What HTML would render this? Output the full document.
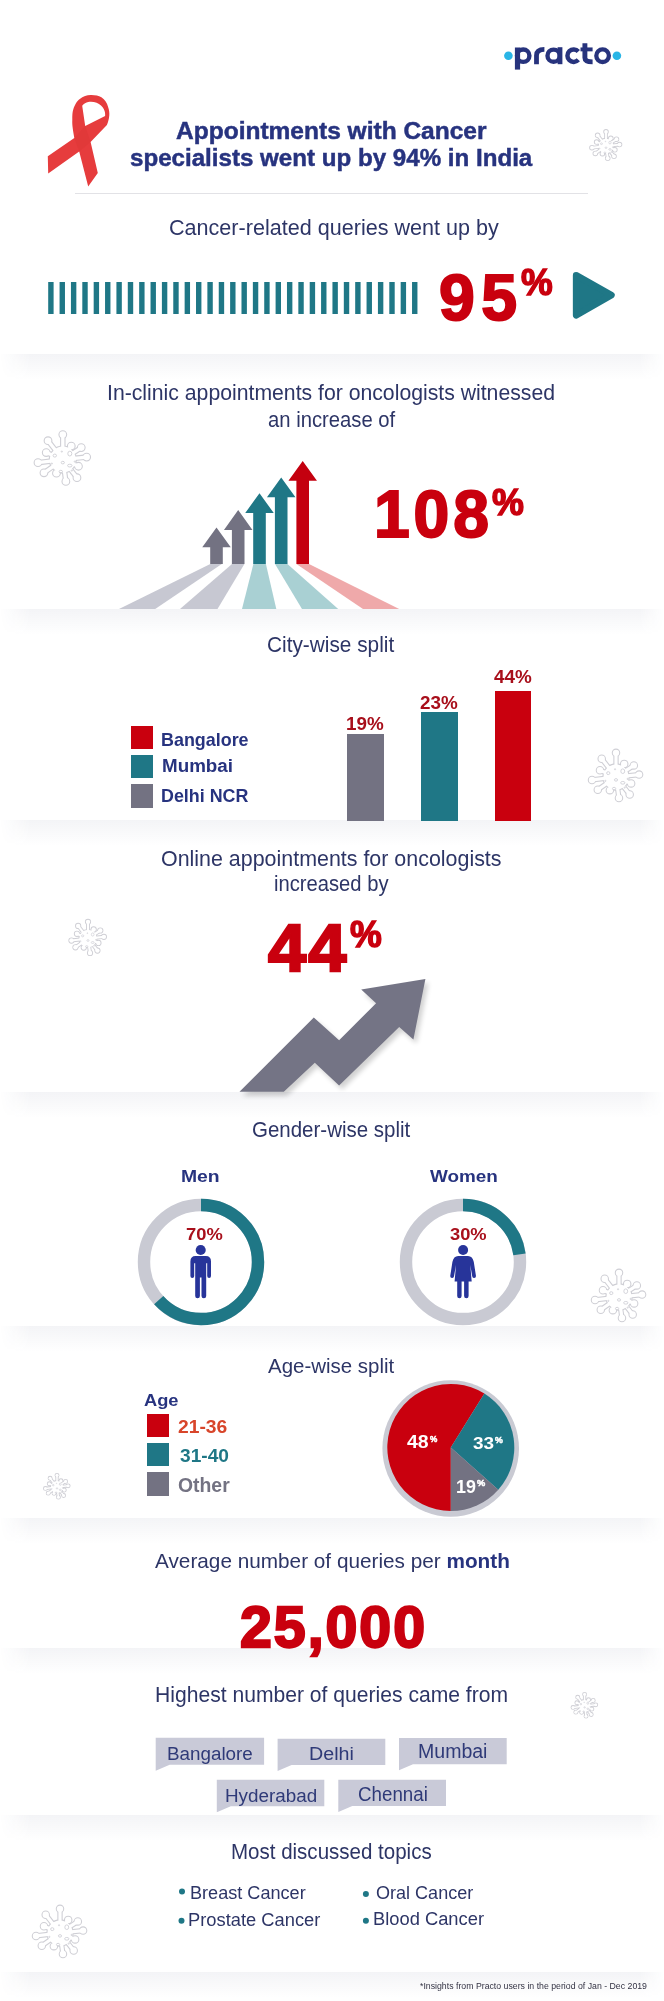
<!DOCTYPE html>
<html><head><meta charset="utf-8"><style>
html,body{margin:0;padding:0;background:#fff;}
body{width:664px;height:2001px;position:relative;overflow:hidden;font-family:"Liberation Sans",sans-serif;}
.abs{position:absolute;}
.t{position:absolute;white-space:nowrap;line-height:1;transform-origin:0 0;font-family:"Liberation Sans",sans-serif;}
.band{position:absolute;left:0;width:664px;height:26px;background:linear-gradient(to bottom,rgba(30,40,90,0.05),rgba(30,40,90,0));
-webkit-mask-image:linear-gradient(to right,transparent 0,#000 30px,#000 640px,transparent 664px);}
</style></head><body>
<svg class="abs" style="left:0;top:0" width="664" height="2001" viewBox="0 0 664 2001"><g fill="#cfcfd5" stroke="#cfcfd5" stroke-width="0.90"><circle stroke-width="1.80" cx="606" cy="146" r="7.37"/><line x1="606" y1="146" x2="606.00" y2="131.83" stroke-width="3.67"/><circle stroke-width="1.80" cx="606.00" cy="131.83" r="1.87"/><line x1="606" y1="146" x2="610.80" y2="138.31" stroke-width="3.67"/><circle stroke-width="1.80" cx="610.80" cy="138.31" r="1.87"/><line x1="606" y1="146" x2="616.46" y2="139.21" stroke-width="3.67"/><circle stroke-width="1.80" cx="616.46" cy="139.21" r="1.87"/><line x1="606" y1="146" x2="619.53" y2="144.58" stroke-width="3.67"/><circle stroke-width="1.80" cx="619.53" cy="144.58" r="1.87"/><line x1="606" y1="146" x2="614.87" y2="149.76" stroke-width="3.67"/><circle stroke-width="1.80" cx="614.87" cy="149.76" r="1.87"/><line x1="606" y1="146" x2="614.02" y2="156.27" stroke-width="3.67"/><circle stroke-width="1.80" cx="614.02" cy="156.27" r="1.87"/><line x1="606" y1="146" x2="607.74" y2="158.35" stroke-width="3.67"/><circle stroke-width="1.80" cx="607.74" cy="158.35" r="1.87"/><line x1="606" y1="146" x2="602.41" y2="153.70" stroke-width="3.67"/><circle stroke-width="1.80" cx="602.41" cy="153.70" r="1.87"/><line x1="606" y1="146" x2="595.32" y2="153.48" stroke-width="3.67"/><circle stroke-width="1.80" cx="595.32" cy="153.48" r="1.87"/><line x1="606" y1="146" x2="591.94" y2="147.73" stroke-width="3.67"/><circle stroke-width="1.80" cx="591.94" cy="147.73" r="1.87"/><line x1="606" y1="146" x2="596.61" y2="142.01" stroke-width="3.67"/><circle stroke-width="1.80" cx="596.61" cy="142.01" r="1.87"/><line x1="606" y1="146" x2="597.63" y2="135.28" stroke-width="3.67"/><circle stroke-width="1.80" cx="597.63" cy="135.28" r="1.87"/></g><g fill="#fff" stroke="#fff"><circle stroke-width="0" cx="606" cy="146" r="7.37"/><line x1="606" y1="146" x2="606.00" y2="131.83" stroke-width="1.87"/><circle stroke-width="0" cx="606.00" cy="131.83" r="1.87"/><line x1="606" y1="146" x2="610.80" y2="138.31" stroke-width="1.87"/><circle stroke-width="0" cx="610.80" cy="138.31" r="1.87"/><line x1="606" y1="146" x2="616.46" y2="139.21" stroke-width="1.87"/><circle stroke-width="0" cx="616.46" cy="139.21" r="1.87"/><line x1="606" y1="146" x2="619.53" y2="144.58" stroke-width="1.87"/><circle stroke-width="0" cx="619.53" cy="144.58" r="1.87"/><line x1="606" y1="146" x2="614.87" y2="149.76" stroke-width="1.87"/><circle stroke-width="0" cx="614.87" cy="149.76" r="1.87"/><line x1="606" y1="146" x2="614.02" y2="156.27" stroke-width="1.87"/><circle stroke-width="0" cx="614.02" cy="156.27" r="1.87"/><line x1="606" y1="146" x2="607.74" y2="158.35" stroke-width="1.87"/><circle stroke-width="0" cx="607.74" cy="158.35" r="1.87"/><line x1="606" y1="146" x2="602.41" y2="153.70" stroke-width="1.87"/><circle stroke-width="0" cx="602.41" cy="153.70" r="1.87"/><line x1="606" y1="146" x2="595.32" y2="153.48" stroke-width="1.87"/><circle stroke-width="0" cx="595.32" cy="153.48" r="1.87"/><line x1="606" y1="146" x2="591.94" y2="147.73" stroke-width="1.87"/><circle stroke-width="0" cx="591.94" cy="147.73" r="1.87"/><line x1="606" y1="146" x2="596.61" y2="142.01" stroke-width="1.87"/><circle stroke-width="0" cx="596.61" cy="142.01" r="1.87"/><line x1="606" y1="146" x2="597.63" y2="135.28" stroke-width="1.87"/><circle stroke-width="0" cx="597.63" cy="135.28" r="1.87"/></g><ellipse cx="601.47" cy="143.73" rx="0.96" ry="0.85" fill="none" stroke="#cfcfd5" stroke-width="0.70"/><ellipse cx="609.97" cy="142.60" rx="1.13" ry="1.36" fill="none" stroke="#cfcfd5" stroke-width="0.70"/><ellipse cx="606.00" cy="147.70" rx="0.91" ry="0.74" fill="none" stroke="#cfcfd5" stroke-width="0.70"/><ellipse cx="609.97" cy="149.40" rx="1.25" ry="0.79" fill="none" stroke="#cfcfd5" stroke-width="0.70"/><ellipse cx="604.87" cy="152.80" rx="0.96" ry="0.74" fill="none" stroke="#cfcfd5" stroke-width="0.70"/><ellipse cx="605.43" cy="141.47" rx="0.34" ry="0.34" fill="none" stroke="#cfcfd5" stroke-width="0.70"/><ellipse cx="599.77" cy="148.27" rx="0.34" ry="0.34" fill="none" stroke="#cfcfd5" stroke-width="0.70"/><ellipse cx="612.80" cy="147.13" rx="0.34" ry="0.34" fill="none" stroke="#cfcfd5" stroke-width="0.70"/><ellipse cx="611.10" cy="152.23" rx="0.34" ry="0.34" fill="none" stroke="#cfcfd5" stroke-width="0.70"/><g fill="#cfcfd5" stroke="#cfcfd5" stroke-width="1.10"><circle stroke-width="2.20" cx="62.8" cy="459.6" r="13.00"/><line x1="62.8" y1="459.6" x2="62.80" y2="434.60" stroke-width="5.50"/><circle stroke-width="2.20" cx="62.80" cy="434.60" r="3.30"/><line x1="62.8" y1="459.6" x2="71.28" y2="446.03" stroke-width="5.50"/><circle stroke-width="2.20" cx="71.28" cy="446.03" r="3.30"/><line x1="62.8" y1="459.6" x2="81.25" y2="447.62" stroke-width="5.50"/><circle stroke-width="2.20" cx="81.25" cy="447.62" r="3.30"/><line x1="62.8" y1="459.6" x2="86.67" y2="457.09" stroke-width="5.50"/><circle stroke-width="2.20" cx="86.67" cy="457.09" r="3.30"/><line x1="62.8" y1="459.6" x2="78.45" y2="466.24" stroke-width="5.50"/><circle stroke-width="2.20" cx="78.45" cy="466.24" r="3.30"/><line x1="62.8" y1="459.6" x2="76.96" y2="477.72" stroke-width="5.50"/><circle stroke-width="2.20" cx="76.96" cy="477.72" r="3.30"/><line x1="62.8" y1="459.6" x2="65.86" y2="481.39" stroke-width="5.50"/><circle stroke-width="2.20" cx="65.86" cy="481.39" r="3.30"/><line x1="62.8" y1="459.6" x2="56.46" y2="473.19" stroke-width="5.50"/><circle stroke-width="2.20" cx="56.46" cy="473.19" r="3.30"/><line x1="62.8" y1="459.6" x2="43.96" y2="472.79" stroke-width="5.50"/><circle stroke-width="2.20" cx="43.96" cy="472.79" r="3.30"/><line x1="62.8" y1="459.6" x2="37.99" y2="462.65" stroke-width="5.50"/><circle stroke-width="2.20" cx="37.99" cy="462.65" r="3.30"/><line x1="62.8" y1="459.6" x2="46.23" y2="452.57" stroke-width="5.50"/><circle stroke-width="2.20" cx="46.23" cy="452.57" r="3.30"/><line x1="62.8" y1="459.6" x2="48.02" y2="440.69" stroke-width="5.50"/><circle stroke-width="2.20" cx="48.02" cy="440.69" r="3.30"/></g><g fill="#fff" stroke="#fff"><circle stroke-width="0" cx="62.8" cy="459.6" r="13.00"/><line x1="62.8" y1="459.6" x2="62.80" y2="434.60" stroke-width="3.30"/><circle stroke-width="0" cx="62.80" cy="434.60" r="3.30"/><line x1="62.8" y1="459.6" x2="71.28" y2="446.03" stroke-width="3.30"/><circle stroke-width="0" cx="71.28" cy="446.03" r="3.30"/><line x1="62.8" y1="459.6" x2="81.25" y2="447.62" stroke-width="3.30"/><circle stroke-width="0" cx="81.25" cy="447.62" r="3.30"/><line x1="62.8" y1="459.6" x2="86.67" y2="457.09" stroke-width="3.30"/><circle stroke-width="0" cx="86.67" cy="457.09" r="3.30"/><line x1="62.8" y1="459.6" x2="78.45" y2="466.24" stroke-width="3.30"/><circle stroke-width="0" cx="78.45" cy="466.24" r="3.30"/><line x1="62.8" y1="459.6" x2="76.96" y2="477.72" stroke-width="3.30"/><circle stroke-width="0" cx="76.96" cy="477.72" r="3.30"/><line x1="62.8" y1="459.6" x2="65.86" y2="481.39" stroke-width="3.30"/><circle stroke-width="0" cx="65.86" cy="481.39" r="3.30"/><line x1="62.8" y1="459.6" x2="56.46" y2="473.19" stroke-width="3.30"/><circle stroke-width="0" cx="56.46" cy="473.19" r="3.30"/><line x1="62.8" y1="459.6" x2="43.96" y2="472.79" stroke-width="3.30"/><circle stroke-width="0" cx="43.96" cy="472.79" r="3.30"/><line x1="62.8" y1="459.6" x2="37.99" y2="462.65" stroke-width="3.30"/><circle stroke-width="0" cx="37.99" cy="462.65" r="3.30"/><line x1="62.8" y1="459.6" x2="46.23" y2="452.57" stroke-width="3.30"/><circle stroke-width="0" cx="46.23" cy="452.57" r="3.30"/><line x1="62.8" y1="459.6" x2="48.02" y2="440.69" stroke-width="3.30"/><circle stroke-width="0" cx="48.02" cy="440.69" r="3.30"/></g><ellipse cx="54.80" cy="455.60" rx="1.70" ry="1.50" fill="none" stroke="#cfcfd5" stroke-width="0.90"/><ellipse cx="69.80" cy="453.60" rx="2.00" ry="2.40" fill="none" stroke="#cfcfd5" stroke-width="0.90"/><ellipse cx="62.80" cy="462.60" rx="1.60" ry="1.30" fill="none" stroke="#cfcfd5" stroke-width="0.90"/><ellipse cx="69.80" cy="465.60" rx="2.20" ry="1.40" fill="none" stroke="#cfcfd5" stroke-width="0.90"/><ellipse cx="60.80" cy="471.60" rx="1.70" ry="1.30" fill="none" stroke="#cfcfd5" stroke-width="0.90"/><ellipse cx="61.80" cy="451.60" rx="0.60" ry="0.60" fill="none" stroke="#cfcfd5" stroke-width="0.90"/><ellipse cx="51.80" cy="463.60" rx="0.60" ry="0.60" fill="none" stroke="#cfcfd5" stroke-width="0.90"/><ellipse cx="74.80" cy="461.60" rx="0.60" ry="0.60" fill="none" stroke="#cfcfd5" stroke-width="0.90"/><ellipse cx="71.80" cy="470.60" rx="0.60" ry="0.60" fill="none" stroke="#cfcfd5" stroke-width="0.90"/><g fill="#cfcfd5" stroke="#cfcfd5" stroke-width="1.06"><circle stroke-width="2.13" cx="616" cy="777" r="12.57"/><line x1="616" y1="777" x2="616.00" y2="752.83" stroke-width="5.32"/><circle stroke-width="2.13" cx="616.00" cy="752.83" r="3.19"/><line x1="616" y1="777" x2="624.20" y2="763.88" stroke-width="5.32"/><circle stroke-width="2.13" cx="624.20" cy="763.88" r="3.19"/><line x1="616" y1="777" x2="633.84" y2="765.42" stroke-width="5.32"/><circle stroke-width="2.13" cx="633.84" cy="765.42" r="3.19"/><line x1="616" y1="777" x2="639.07" y2="774.57" stroke-width="5.32"/><circle stroke-width="2.13" cx="639.07" cy="774.57" r="3.19"/><line x1="616" y1="777" x2="631.13" y2="783.42" stroke-width="5.32"/><circle stroke-width="2.13" cx="631.13" cy="783.42" r="3.19"/><line x1="616" y1="777" x2="629.69" y2="794.52" stroke-width="5.32"/><circle stroke-width="2.13" cx="629.69" cy="794.52" r="3.19"/><line x1="616" y1="777" x2="618.96" y2="798.06" stroke-width="5.32"/><circle stroke-width="2.13" cx="618.96" cy="798.06" r="3.19"/><line x1="616" y1="777" x2="609.87" y2="790.14" stroke-width="5.32"/><circle stroke-width="2.13" cx="609.87" cy="790.14" r="3.19"/><line x1="616" y1="777" x2="597.79" y2="789.75" stroke-width="5.32"/><circle stroke-width="2.13" cx="597.79" cy="789.75" r="3.19"/><line x1="616" y1="777" x2="592.01" y2="779.95" stroke-width="5.32"/><circle stroke-width="2.13" cx="592.01" cy="779.95" r="3.19"/><line x1="616" y1="777" x2="599.98" y2="770.20" stroke-width="5.32"/><circle stroke-width="2.13" cx="599.98" cy="770.20" r="3.19"/><line x1="616" y1="777" x2="601.72" y2="758.72" stroke-width="5.32"/><circle stroke-width="2.13" cx="601.72" cy="758.72" r="3.19"/></g><g fill="#fff" stroke="#fff"><circle stroke-width="0" cx="616" cy="777" r="12.57"/><line x1="616" y1="777" x2="616.00" y2="752.83" stroke-width="3.19"/><circle stroke-width="0" cx="616.00" cy="752.83" r="3.19"/><line x1="616" y1="777" x2="624.20" y2="763.88" stroke-width="3.19"/><circle stroke-width="0" cx="624.20" cy="763.88" r="3.19"/><line x1="616" y1="777" x2="633.84" y2="765.42" stroke-width="3.19"/><circle stroke-width="0" cx="633.84" cy="765.42" r="3.19"/><line x1="616" y1="777" x2="639.07" y2="774.57" stroke-width="3.19"/><circle stroke-width="0" cx="639.07" cy="774.57" r="3.19"/><line x1="616" y1="777" x2="631.13" y2="783.42" stroke-width="3.19"/><circle stroke-width="0" cx="631.13" cy="783.42" r="3.19"/><line x1="616" y1="777" x2="629.69" y2="794.52" stroke-width="3.19"/><circle stroke-width="0" cx="629.69" cy="794.52" r="3.19"/><line x1="616" y1="777" x2="618.96" y2="798.06" stroke-width="3.19"/><circle stroke-width="0" cx="618.96" cy="798.06" r="3.19"/><line x1="616" y1="777" x2="609.87" y2="790.14" stroke-width="3.19"/><circle stroke-width="0" cx="609.87" cy="790.14" r="3.19"/><line x1="616" y1="777" x2="597.79" y2="789.75" stroke-width="3.19"/><circle stroke-width="0" cx="597.79" cy="789.75" r="3.19"/><line x1="616" y1="777" x2="592.01" y2="779.95" stroke-width="3.19"/><circle stroke-width="0" cx="592.01" cy="779.95" r="3.19"/><line x1="616" y1="777" x2="599.98" y2="770.20" stroke-width="3.19"/><circle stroke-width="0" cx="599.98" cy="770.20" r="3.19"/><line x1="616" y1="777" x2="601.72" y2="758.72" stroke-width="3.19"/><circle stroke-width="0" cx="601.72" cy="758.72" r="3.19"/></g><ellipse cx="608.27" cy="773.13" rx="1.64" ry="1.45" fill="none" stroke="#cfcfd5" stroke-width="0.87"/><ellipse cx="622.77" cy="771.20" rx="1.93" ry="2.32" fill="none" stroke="#cfcfd5" stroke-width="0.87"/><ellipse cx="616.00" cy="779.90" rx="1.55" ry="1.26" fill="none" stroke="#cfcfd5" stroke-width="0.87"/><ellipse cx="622.77" cy="782.80" rx="2.13" ry="1.35" fill="none" stroke="#cfcfd5" stroke-width="0.87"/><ellipse cx="614.07" cy="788.60" rx="1.64" ry="1.26" fill="none" stroke="#cfcfd5" stroke-width="0.87"/><ellipse cx="615.03" cy="769.27" rx="0.58" ry="0.58" fill="none" stroke="#cfcfd5" stroke-width="0.87"/><ellipse cx="605.37" cy="780.87" rx="0.58" ry="0.58" fill="none" stroke="#cfcfd5" stroke-width="0.87"/><ellipse cx="627.60" cy="778.93" rx="0.58" ry="0.58" fill="none" stroke="#cfcfd5" stroke-width="0.87"/><ellipse cx="624.70" cy="787.63" rx="0.58" ry="0.58" fill="none" stroke="#cfcfd5" stroke-width="0.87"/><g fill="#cfcfd5" stroke="#cfcfd5" stroke-width="0.90"><circle stroke-width="1.80" cx="88" cy="938.5" r="8.67"/><line x1="88" y1="938.5" x2="88.00" y2="921.83" stroke-width="4.00"/><circle stroke-width="1.80" cx="88.00" cy="921.83" r="2.20"/><line x1="88" y1="938.5" x2="93.65" y2="929.45" stroke-width="4.00"/><circle stroke-width="1.80" cx="93.65" cy="929.45" r="2.20"/><line x1="88" y1="938.5" x2="100.30" y2="930.51" stroke-width="4.00"/><circle stroke-width="1.80" cx="100.30" cy="930.51" r="2.20"/><line x1="88" y1="938.5" x2="103.91" y2="936.83" stroke-width="4.00"/><circle stroke-width="1.80" cx="103.91" cy="936.83" r="2.20"/><line x1="88" y1="938.5" x2="98.43" y2="942.93" stroke-width="4.00"/><circle stroke-width="1.80" cx="98.43" cy="942.93" r="2.20"/><line x1="88" y1="938.5" x2="97.44" y2="950.58" stroke-width="4.00"/><circle stroke-width="1.80" cx="97.44" cy="950.58" r="2.20"/><line x1="88" y1="938.5" x2="90.04" y2="953.02" stroke-width="4.00"/><circle stroke-width="1.80" cx="90.04" cy="953.02" r="2.20"/><line x1="88" y1="938.5" x2="83.77" y2="947.56" stroke-width="4.00"/><circle stroke-width="1.80" cx="83.77" cy="947.56" r="2.20"/><line x1="88" y1="938.5" x2="75.44" y2="947.29" stroke-width="4.00"/><circle stroke-width="1.80" cx="75.44" cy="947.29" r="2.20"/><line x1="88" y1="938.5" x2="71.46" y2="940.53" stroke-width="4.00"/><circle stroke-width="1.80" cx="71.46" cy="940.53" r="2.20"/><line x1="88" y1="938.5" x2="76.95" y2="933.81" stroke-width="4.00"/><circle stroke-width="1.80" cx="76.95" cy="933.81" r="2.20"/><line x1="88" y1="938.5" x2="78.15" y2="925.89" stroke-width="4.00"/><circle stroke-width="1.80" cx="78.15" cy="925.89" r="2.20"/></g><g fill="#fff" stroke="#fff"><circle stroke-width="0" cx="88" cy="938.5" r="8.67"/><line x1="88" y1="938.5" x2="88.00" y2="921.83" stroke-width="2.20"/><circle stroke-width="0" cx="88.00" cy="921.83" r="2.20"/><line x1="88" y1="938.5" x2="93.65" y2="929.45" stroke-width="2.20"/><circle stroke-width="0" cx="93.65" cy="929.45" r="2.20"/><line x1="88" y1="938.5" x2="100.30" y2="930.51" stroke-width="2.20"/><circle stroke-width="0" cx="100.30" cy="930.51" r="2.20"/><line x1="88" y1="938.5" x2="103.91" y2="936.83" stroke-width="2.20"/><circle stroke-width="0" cx="103.91" cy="936.83" r="2.20"/><line x1="88" y1="938.5" x2="98.43" y2="942.93" stroke-width="2.20"/><circle stroke-width="0" cx="98.43" cy="942.93" r="2.20"/><line x1="88" y1="938.5" x2="97.44" y2="950.58" stroke-width="2.20"/><circle stroke-width="0" cx="97.44" cy="950.58" r="2.20"/><line x1="88" y1="938.5" x2="90.04" y2="953.02" stroke-width="2.20"/><circle stroke-width="0" cx="90.04" cy="953.02" r="2.20"/><line x1="88" y1="938.5" x2="83.77" y2="947.56" stroke-width="2.20"/><circle stroke-width="0" cx="83.77" cy="947.56" r="2.20"/><line x1="88" y1="938.5" x2="75.44" y2="947.29" stroke-width="2.20"/><circle stroke-width="0" cx="75.44" cy="947.29" r="2.20"/><line x1="88" y1="938.5" x2="71.46" y2="940.53" stroke-width="2.20"/><circle stroke-width="0" cx="71.46" cy="940.53" r="2.20"/><line x1="88" y1="938.5" x2="76.95" y2="933.81" stroke-width="2.20"/><circle stroke-width="0" cx="76.95" cy="933.81" r="2.20"/><line x1="88" y1="938.5" x2="78.15" y2="925.89" stroke-width="2.20"/><circle stroke-width="0" cx="78.15" cy="925.89" r="2.20"/></g><ellipse cx="82.67" cy="935.83" rx="1.13" ry="1.00" fill="none" stroke="#cfcfd5" stroke-width="0.70"/><ellipse cx="92.67" cy="934.50" rx="1.33" ry="1.60" fill="none" stroke="#cfcfd5" stroke-width="0.70"/><ellipse cx="88.00" cy="940.50" rx="1.07" ry="0.87" fill="none" stroke="#cfcfd5" stroke-width="0.70"/><ellipse cx="92.67" cy="942.50" rx="1.47" ry="0.93" fill="none" stroke="#cfcfd5" stroke-width="0.70"/><ellipse cx="86.67" cy="946.50" rx="1.13" ry="0.87" fill="none" stroke="#cfcfd5" stroke-width="0.70"/><ellipse cx="87.33" cy="933.17" rx="0.40" ry="0.40" fill="none" stroke="#cfcfd5" stroke-width="0.70"/><ellipse cx="80.67" cy="941.17" rx="0.40" ry="0.40" fill="none" stroke="#cfcfd5" stroke-width="0.70"/><ellipse cx="96.00" cy="939.83" rx="0.40" ry="0.40" fill="none" stroke="#cfcfd5" stroke-width="0.70"/><ellipse cx="94.00" cy="945.83" rx="0.40" ry="0.40" fill="none" stroke="#cfcfd5" stroke-width="0.70"/><g fill="#cfcfd5" stroke="#cfcfd5" stroke-width="1.06"><circle stroke-width="2.13" cx="619" cy="1297" r="12.57"/><line x1="619" y1="1297" x2="619.00" y2="1272.83" stroke-width="5.32"/><circle stroke-width="2.13" cx="619.00" cy="1272.83" r="3.19"/><line x1="619" y1="1297" x2="627.20" y2="1283.88" stroke-width="5.32"/><circle stroke-width="2.13" cx="627.20" cy="1283.88" r="3.19"/><line x1="619" y1="1297" x2="636.84" y2="1285.42" stroke-width="5.32"/><circle stroke-width="2.13" cx="636.84" cy="1285.42" r="3.19"/><line x1="619" y1="1297" x2="642.07" y2="1294.57" stroke-width="5.32"/><circle stroke-width="2.13" cx="642.07" cy="1294.57" r="3.19"/><line x1="619" y1="1297" x2="634.13" y2="1303.42" stroke-width="5.32"/><circle stroke-width="2.13" cx="634.13" cy="1303.42" r="3.19"/><line x1="619" y1="1297" x2="632.69" y2="1314.52" stroke-width="5.32"/><circle stroke-width="2.13" cx="632.69" cy="1314.52" r="3.19"/><line x1="619" y1="1297" x2="621.96" y2="1318.06" stroke-width="5.32"/><circle stroke-width="2.13" cx="621.96" cy="1318.06" r="3.19"/><line x1="619" y1="1297" x2="612.87" y2="1310.14" stroke-width="5.32"/><circle stroke-width="2.13" cx="612.87" cy="1310.14" r="3.19"/><line x1="619" y1="1297" x2="600.79" y2="1309.75" stroke-width="5.32"/><circle stroke-width="2.13" cx="600.79" cy="1309.75" r="3.19"/><line x1="619" y1="1297" x2="595.01" y2="1299.95" stroke-width="5.32"/><circle stroke-width="2.13" cx="595.01" cy="1299.95" r="3.19"/><line x1="619" y1="1297" x2="602.98" y2="1290.20" stroke-width="5.32"/><circle stroke-width="2.13" cx="602.98" cy="1290.20" r="3.19"/><line x1="619" y1="1297" x2="604.72" y2="1278.72" stroke-width="5.32"/><circle stroke-width="2.13" cx="604.72" cy="1278.72" r="3.19"/></g><g fill="#fff" stroke="#fff"><circle stroke-width="0" cx="619" cy="1297" r="12.57"/><line x1="619" y1="1297" x2="619.00" y2="1272.83" stroke-width="3.19"/><circle stroke-width="0" cx="619.00" cy="1272.83" r="3.19"/><line x1="619" y1="1297" x2="627.20" y2="1283.88" stroke-width="3.19"/><circle stroke-width="0" cx="627.20" cy="1283.88" r="3.19"/><line x1="619" y1="1297" x2="636.84" y2="1285.42" stroke-width="3.19"/><circle stroke-width="0" cx="636.84" cy="1285.42" r="3.19"/><line x1="619" y1="1297" x2="642.07" y2="1294.57" stroke-width="3.19"/><circle stroke-width="0" cx="642.07" cy="1294.57" r="3.19"/><line x1="619" y1="1297" x2="634.13" y2="1303.42" stroke-width="3.19"/><circle stroke-width="0" cx="634.13" cy="1303.42" r="3.19"/><line x1="619" y1="1297" x2="632.69" y2="1314.52" stroke-width="3.19"/><circle stroke-width="0" cx="632.69" cy="1314.52" r="3.19"/><line x1="619" y1="1297" x2="621.96" y2="1318.06" stroke-width="3.19"/><circle stroke-width="0" cx="621.96" cy="1318.06" r="3.19"/><line x1="619" y1="1297" x2="612.87" y2="1310.14" stroke-width="3.19"/><circle stroke-width="0" cx="612.87" cy="1310.14" r="3.19"/><line x1="619" y1="1297" x2="600.79" y2="1309.75" stroke-width="3.19"/><circle stroke-width="0" cx="600.79" cy="1309.75" r="3.19"/><line x1="619" y1="1297" x2="595.01" y2="1299.95" stroke-width="3.19"/><circle stroke-width="0" cx="595.01" cy="1299.95" r="3.19"/><line x1="619" y1="1297" x2="602.98" y2="1290.20" stroke-width="3.19"/><circle stroke-width="0" cx="602.98" cy="1290.20" r="3.19"/><line x1="619" y1="1297" x2="604.72" y2="1278.72" stroke-width="3.19"/><circle stroke-width="0" cx="604.72" cy="1278.72" r="3.19"/></g><ellipse cx="611.27" cy="1293.13" rx="1.64" ry="1.45" fill="none" stroke="#cfcfd5" stroke-width="0.87"/><ellipse cx="625.77" cy="1291.20" rx="1.93" ry="2.32" fill="none" stroke="#cfcfd5" stroke-width="0.87"/><ellipse cx="619.00" cy="1299.90" rx="1.55" ry="1.26" fill="none" stroke="#cfcfd5" stroke-width="0.87"/><ellipse cx="625.77" cy="1302.80" rx="2.13" ry="1.35" fill="none" stroke="#cfcfd5" stroke-width="0.87"/><ellipse cx="617.07" cy="1308.60" rx="1.64" ry="1.26" fill="none" stroke="#cfcfd5" stroke-width="0.87"/><ellipse cx="618.03" cy="1289.27" rx="0.58" ry="0.58" fill="none" stroke="#cfcfd5" stroke-width="0.87"/><ellipse cx="608.37" cy="1300.87" rx="0.58" ry="0.58" fill="none" stroke="#cfcfd5" stroke-width="0.87"/><ellipse cx="630.60" cy="1298.93" rx="0.58" ry="0.58" fill="none" stroke="#cfcfd5" stroke-width="0.87"/><ellipse cx="627.70" cy="1307.63" rx="0.58" ry="0.58" fill="none" stroke="#cfcfd5" stroke-width="0.87"/><g fill="#cfcfd5" stroke="#cfcfd5" stroke-width="0.90"><circle stroke-width="1.80" cx="57" cy="1487" r="6.07"/><line x1="57" y1="1487" x2="57.00" y2="1475.33" stroke-width="3.34"/><circle stroke-width="1.80" cx="57.00" cy="1475.33" r="1.54"/><line x1="57" y1="1487" x2="60.96" y2="1480.67" stroke-width="3.34"/><circle stroke-width="1.80" cx="60.96" cy="1480.67" r="1.54"/><line x1="57" y1="1487" x2="65.61" y2="1481.41" stroke-width="3.34"/><circle stroke-width="1.80" cx="65.61" cy="1481.41" r="1.54"/><line x1="57" y1="1487" x2="68.14" y2="1485.83" stroke-width="3.34"/><circle stroke-width="1.80" cx="68.14" cy="1485.83" r="1.54"/><line x1="57" y1="1487" x2="64.30" y2="1490.10" stroke-width="3.34"/><circle stroke-width="1.80" cx="64.30" cy="1490.10" r="1.54"/><line x1="57" y1="1487" x2="63.61" y2="1495.46" stroke-width="3.34"/><circle stroke-width="1.80" cx="63.61" cy="1495.46" r="1.54"/><line x1="57" y1="1487" x2="58.43" y2="1497.17" stroke-width="3.34"/><circle stroke-width="1.80" cx="58.43" cy="1497.17" r="1.54"/><line x1="57" y1="1487" x2="54.04" y2="1493.34" stroke-width="3.34"/><circle stroke-width="1.80" cx="54.04" cy="1493.34" r="1.54"/><line x1="57" y1="1487" x2="48.21" y2="1493.16" stroke-width="3.34"/><circle stroke-width="1.80" cx="48.21" cy="1493.16" r="1.54"/><line x1="57" y1="1487" x2="45.42" y2="1488.42" stroke-width="3.34"/><circle stroke-width="1.80" cx="45.42" cy="1488.42" r="1.54"/><line x1="57" y1="1487" x2="49.27" y2="1483.72" stroke-width="3.34"/><circle stroke-width="1.80" cx="49.27" cy="1483.72" r="1.54"/><line x1="57" y1="1487" x2="50.10" y2="1478.17" stroke-width="3.34"/><circle stroke-width="1.80" cx="50.10" cy="1478.17" r="1.54"/></g><g fill="#fff" stroke="#fff"><circle stroke-width="0" cx="57" cy="1487" r="6.07"/><line x1="57" y1="1487" x2="57.00" y2="1475.33" stroke-width="1.54"/><circle stroke-width="0" cx="57.00" cy="1475.33" r="1.54"/><line x1="57" y1="1487" x2="60.96" y2="1480.67" stroke-width="1.54"/><circle stroke-width="0" cx="60.96" cy="1480.67" r="1.54"/><line x1="57" y1="1487" x2="65.61" y2="1481.41" stroke-width="1.54"/><circle stroke-width="0" cx="65.61" cy="1481.41" r="1.54"/><line x1="57" y1="1487" x2="68.14" y2="1485.83" stroke-width="1.54"/><circle stroke-width="0" cx="68.14" cy="1485.83" r="1.54"/><line x1="57" y1="1487" x2="64.30" y2="1490.10" stroke-width="1.54"/><circle stroke-width="0" cx="64.30" cy="1490.10" r="1.54"/><line x1="57" y1="1487" x2="63.61" y2="1495.46" stroke-width="1.54"/><circle stroke-width="0" cx="63.61" cy="1495.46" r="1.54"/><line x1="57" y1="1487" x2="58.43" y2="1497.17" stroke-width="1.54"/><circle stroke-width="0" cx="58.43" cy="1497.17" r="1.54"/><line x1="57" y1="1487" x2="54.04" y2="1493.34" stroke-width="1.54"/><circle stroke-width="0" cx="54.04" cy="1493.34" r="1.54"/><line x1="57" y1="1487" x2="48.21" y2="1493.16" stroke-width="1.54"/><circle stroke-width="0" cx="48.21" cy="1493.16" r="1.54"/><line x1="57" y1="1487" x2="45.42" y2="1488.42" stroke-width="1.54"/><circle stroke-width="0" cx="45.42" cy="1488.42" r="1.54"/><line x1="57" y1="1487" x2="49.27" y2="1483.72" stroke-width="1.54"/><circle stroke-width="0" cx="49.27" cy="1483.72" r="1.54"/><line x1="57" y1="1487" x2="50.10" y2="1478.17" stroke-width="1.54"/><circle stroke-width="0" cx="50.10" cy="1478.17" r="1.54"/></g><ellipse cx="53.27" cy="1485.13" rx="0.79" ry="0.70" fill="none" stroke="#cfcfd5" stroke-width="0.70"/><ellipse cx="60.27" cy="1484.20" rx="0.93" ry="1.12" fill="none" stroke="#cfcfd5" stroke-width="0.70"/><ellipse cx="57.00" cy="1488.40" rx="0.75" ry="0.61" fill="none" stroke="#cfcfd5" stroke-width="0.70"/><ellipse cx="60.27" cy="1489.80" rx="1.03" ry="0.65" fill="none" stroke="#cfcfd5" stroke-width="0.70"/><ellipse cx="56.07" cy="1492.60" rx="0.79" ry="0.61" fill="none" stroke="#cfcfd5" stroke-width="0.70"/><ellipse cx="56.53" cy="1483.27" rx="0.28" ry="0.28" fill="none" stroke="#cfcfd5" stroke-width="0.70"/><ellipse cx="51.87" cy="1488.87" rx="0.28" ry="0.28" fill="none" stroke="#cfcfd5" stroke-width="0.70"/><ellipse cx="62.60" cy="1487.93" rx="0.28" ry="0.28" fill="none" stroke="#cfcfd5" stroke-width="0.70"/><ellipse cx="61.20" cy="1492.13" rx="0.28" ry="0.28" fill="none" stroke="#cfcfd5" stroke-width="0.70"/><g fill="#cfcfd5" stroke="#cfcfd5" stroke-width="0.90"><circle stroke-width="1.80" cx="584.6" cy="1706" r="6.07"/><line x1="584.6" y1="1706" x2="584.60" y2="1694.33" stroke-width="3.34"/><circle stroke-width="1.80" cx="584.60" cy="1694.33" r="1.54"/><line x1="584.6" y1="1706" x2="588.56" y2="1699.67" stroke-width="3.34"/><circle stroke-width="1.80" cx="588.56" cy="1699.67" r="1.54"/><line x1="584.6" y1="1706" x2="593.21" y2="1700.41" stroke-width="3.34"/><circle stroke-width="1.80" cx="593.21" cy="1700.41" r="1.54"/><line x1="584.6" y1="1706" x2="595.74" y2="1704.83" stroke-width="3.34"/><circle stroke-width="1.80" cx="595.74" cy="1704.83" r="1.54"/><line x1="584.6" y1="1706" x2="591.90" y2="1709.10" stroke-width="3.34"/><circle stroke-width="1.80" cx="591.90" cy="1709.10" r="1.54"/><line x1="584.6" y1="1706" x2="591.21" y2="1714.46" stroke-width="3.34"/><circle stroke-width="1.80" cx="591.21" cy="1714.46" r="1.54"/><line x1="584.6" y1="1706" x2="586.03" y2="1716.17" stroke-width="3.34"/><circle stroke-width="1.80" cx="586.03" cy="1716.17" r="1.54"/><line x1="584.6" y1="1706" x2="581.64" y2="1712.34" stroke-width="3.34"/><circle stroke-width="1.80" cx="581.64" cy="1712.34" r="1.54"/><line x1="584.6" y1="1706" x2="575.81" y2="1712.16" stroke-width="3.34"/><circle stroke-width="1.80" cx="575.81" cy="1712.16" r="1.54"/><line x1="584.6" y1="1706" x2="573.02" y2="1707.42" stroke-width="3.34"/><circle stroke-width="1.80" cx="573.02" cy="1707.42" r="1.54"/><line x1="584.6" y1="1706" x2="576.87" y2="1702.72" stroke-width="3.34"/><circle stroke-width="1.80" cx="576.87" cy="1702.72" r="1.54"/><line x1="584.6" y1="1706" x2="577.70" y2="1697.17" stroke-width="3.34"/><circle stroke-width="1.80" cx="577.70" cy="1697.17" r="1.54"/></g><g fill="#fff" stroke="#fff"><circle stroke-width="0" cx="584.6" cy="1706" r="6.07"/><line x1="584.6" y1="1706" x2="584.60" y2="1694.33" stroke-width="1.54"/><circle stroke-width="0" cx="584.60" cy="1694.33" r="1.54"/><line x1="584.6" y1="1706" x2="588.56" y2="1699.67" stroke-width="1.54"/><circle stroke-width="0" cx="588.56" cy="1699.67" r="1.54"/><line x1="584.6" y1="1706" x2="593.21" y2="1700.41" stroke-width="1.54"/><circle stroke-width="0" cx="593.21" cy="1700.41" r="1.54"/><line x1="584.6" y1="1706" x2="595.74" y2="1704.83" stroke-width="1.54"/><circle stroke-width="0" cx="595.74" cy="1704.83" r="1.54"/><line x1="584.6" y1="1706" x2="591.90" y2="1709.10" stroke-width="1.54"/><circle stroke-width="0" cx="591.90" cy="1709.10" r="1.54"/><line x1="584.6" y1="1706" x2="591.21" y2="1714.46" stroke-width="1.54"/><circle stroke-width="0" cx="591.21" cy="1714.46" r="1.54"/><line x1="584.6" y1="1706" x2="586.03" y2="1716.17" stroke-width="1.54"/><circle stroke-width="0" cx="586.03" cy="1716.17" r="1.54"/><line x1="584.6" y1="1706" x2="581.64" y2="1712.34" stroke-width="1.54"/><circle stroke-width="0" cx="581.64" cy="1712.34" r="1.54"/><line x1="584.6" y1="1706" x2="575.81" y2="1712.16" stroke-width="1.54"/><circle stroke-width="0" cx="575.81" cy="1712.16" r="1.54"/><line x1="584.6" y1="1706" x2="573.02" y2="1707.42" stroke-width="1.54"/><circle stroke-width="0" cx="573.02" cy="1707.42" r="1.54"/><line x1="584.6" y1="1706" x2="576.87" y2="1702.72" stroke-width="1.54"/><circle stroke-width="0" cx="576.87" cy="1702.72" r="1.54"/><line x1="584.6" y1="1706" x2="577.70" y2="1697.17" stroke-width="1.54"/><circle stroke-width="0" cx="577.70" cy="1697.17" r="1.54"/></g><ellipse cx="580.87" cy="1704.13" rx="0.79" ry="0.70" fill="none" stroke="#cfcfd5" stroke-width="0.70"/><ellipse cx="587.87" cy="1703.20" rx="0.93" ry="1.12" fill="none" stroke="#cfcfd5" stroke-width="0.70"/><ellipse cx="584.60" cy="1707.40" rx="0.75" ry="0.61" fill="none" stroke="#cfcfd5" stroke-width="0.70"/><ellipse cx="587.87" cy="1708.80" rx="1.03" ry="0.65" fill="none" stroke="#cfcfd5" stroke-width="0.70"/><ellipse cx="583.67" cy="1711.60" rx="0.79" ry="0.61" fill="none" stroke="#cfcfd5" stroke-width="0.70"/><ellipse cx="584.13" cy="1702.27" rx="0.28" ry="0.28" fill="none" stroke="#cfcfd5" stroke-width="0.70"/><ellipse cx="579.47" cy="1707.87" rx="0.28" ry="0.28" fill="none" stroke="#cfcfd5" stroke-width="0.70"/><ellipse cx="590.20" cy="1706.93" rx="0.28" ry="0.28" fill="none" stroke="#cfcfd5" stroke-width="0.70"/><ellipse cx="588.80" cy="1711.13" rx="0.28" ry="0.28" fill="none" stroke="#cfcfd5" stroke-width="0.70"/><g fill="#cfcfd5" stroke="#cfcfd5" stroke-width="1.06"><circle stroke-width="2.13" cx="60" cy="1933" r="12.57"/><line x1="60" y1="1933" x2="60.00" y2="1908.83" stroke-width="5.32"/><circle stroke-width="2.13" cx="60.00" cy="1908.83" r="3.19"/><line x1="60" y1="1933" x2="68.20" y2="1919.88" stroke-width="5.32"/><circle stroke-width="2.13" cx="68.20" cy="1919.88" r="3.19"/><line x1="60" y1="1933" x2="77.84" y2="1921.42" stroke-width="5.32"/><circle stroke-width="2.13" cx="77.84" cy="1921.42" r="3.19"/><line x1="60" y1="1933" x2="83.07" y2="1930.57" stroke-width="5.32"/><circle stroke-width="2.13" cx="83.07" cy="1930.57" r="3.19"/><line x1="60" y1="1933" x2="75.13" y2="1939.42" stroke-width="5.32"/><circle stroke-width="2.13" cx="75.13" cy="1939.42" r="3.19"/><line x1="60" y1="1933" x2="73.69" y2="1950.52" stroke-width="5.32"/><circle stroke-width="2.13" cx="73.69" cy="1950.52" r="3.19"/><line x1="60" y1="1933" x2="62.96" y2="1954.06" stroke-width="5.32"/><circle stroke-width="2.13" cx="62.96" cy="1954.06" r="3.19"/><line x1="60" y1="1933" x2="53.87" y2="1946.14" stroke-width="5.32"/><circle stroke-width="2.13" cx="53.87" cy="1946.14" r="3.19"/><line x1="60" y1="1933" x2="41.79" y2="1945.75" stroke-width="5.32"/><circle stroke-width="2.13" cx="41.79" cy="1945.75" r="3.19"/><line x1="60" y1="1933" x2="36.01" y2="1935.95" stroke-width="5.32"/><circle stroke-width="2.13" cx="36.01" cy="1935.95" r="3.19"/><line x1="60" y1="1933" x2="43.98" y2="1926.20" stroke-width="5.32"/><circle stroke-width="2.13" cx="43.98" cy="1926.20" r="3.19"/><line x1="60" y1="1933" x2="45.72" y2="1914.72" stroke-width="5.32"/><circle stroke-width="2.13" cx="45.72" cy="1914.72" r="3.19"/></g><g fill="#fff" stroke="#fff"><circle stroke-width="0" cx="60" cy="1933" r="12.57"/><line x1="60" y1="1933" x2="60.00" y2="1908.83" stroke-width="3.19"/><circle stroke-width="0" cx="60.00" cy="1908.83" r="3.19"/><line x1="60" y1="1933" x2="68.20" y2="1919.88" stroke-width="3.19"/><circle stroke-width="0" cx="68.20" cy="1919.88" r="3.19"/><line x1="60" y1="1933" x2="77.84" y2="1921.42" stroke-width="3.19"/><circle stroke-width="0" cx="77.84" cy="1921.42" r="3.19"/><line x1="60" y1="1933" x2="83.07" y2="1930.57" stroke-width="3.19"/><circle stroke-width="0" cx="83.07" cy="1930.57" r="3.19"/><line x1="60" y1="1933" x2="75.13" y2="1939.42" stroke-width="3.19"/><circle stroke-width="0" cx="75.13" cy="1939.42" r="3.19"/><line x1="60" y1="1933" x2="73.69" y2="1950.52" stroke-width="3.19"/><circle stroke-width="0" cx="73.69" cy="1950.52" r="3.19"/><line x1="60" y1="1933" x2="62.96" y2="1954.06" stroke-width="3.19"/><circle stroke-width="0" cx="62.96" cy="1954.06" r="3.19"/><line x1="60" y1="1933" x2="53.87" y2="1946.14" stroke-width="3.19"/><circle stroke-width="0" cx="53.87" cy="1946.14" r="3.19"/><line x1="60" y1="1933" x2="41.79" y2="1945.75" stroke-width="3.19"/><circle stroke-width="0" cx="41.79" cy="1945.75" r="3.19"/><line x1="60" y1="1933" x2="36.01" y2="1935.95" stroke-width="3.19"/><circle stroke-width="0" cx="36.01" cy="1935.95" r="3.19"/><line x1="60" y1="1933" x2="43.98" y2="1926.20" stroke-width="3.19"/><circle stroke-width="0" cx="43.98" cy="1926.20" r="3.19"/><line x1="60" y1="1933" x2="45.72" y2="1914.72" stroke-width="3.19"/><circle stroke-width="0" cx="45.72" cy="1914.72" r="3.19"/></g><ellipse cx="52.27" cy="1929.13" rx="1.64" ry="1.45" fill="none" stroke="#cfcfd5" stroke-width="0.87"/><ellipse cx="66.77" cy="1927.20" rx="1.93" ry="2.32" fill="none" stroke="#cfcfd5" stroke-width="0.87"/><ellipse cx="60.00" cy="1935.90" rx="1.55" ry="1.26" fill="none" stroke="#cfcfd5" stroke-width="0.87"/><ellipse cx="66.77" cy="1938.80" rx="2.13" ry="1.35" fill="none" stroke="#cfcfd5" stroke-width="0.87"/><ellipse cx="58.07" cy="1944.60" rx="1.64" ry="1.26" fill="none" stroke="#cfcfd5" stroke-width="0.87"/><ellipse cx="59.03" cy="1925.27" rx="0.58" ry="0.58" fill="none" stroke="#cfcfd5" stroke-width="0.87"/><ellipse cx="49.37" cy="1936.87" rx="0.58" ry="0.58" fill="none" stroke="#cfcfd5" stroke-width="0.87"/><ellipse cx="71.60" cy="1934.93" rx="0.58" ry="0.58" fill="none" stroke="#cfcfd5" stroke-width="0.87"/><ellipse cx="68.70" cy="1943.63" rx="0.58" ry="0.58" fill="none" stroke="#cfcfd5" stroke-width="0.87"/></svg>
<div class="band" style="top:354px"></div><div class="band" style="top:609px"></div><div class="band" style="top:820px"></div><div class="band" style="top:1092px"></div><div class="band" style="top:1326px"></div><div class="band" style="top:1518px"></div><div class="band" style="top:1648px"></div><div class="band" style="top:1815px"></div><div class="band" style="top:1972px"></div>
<svg class="abs" style="left:0;top:0" width="664" height="200" viewBox="0 0 664 200">
<path fill="#e63c3d" fill-rule="evenodd" d="M48.2 173.4 L47.8 156.3 L74.3 138 C73 130 72 125 72.3 120.1 C72.2 115 72.5 112 73.1 109.9 C75 104 77 101 79.8 99 C83 96.5 87 95.1 90.6 95.1 C95 95 98.5 95.8 101.4 97.2 C105 99.5 107 103 108.1 106.9 C109.2 110 109.5 113 109.3 115.3 C109 119 108.2 122 106.9 124.9 L90.6 142 L97.8 173.1 L88.2 186.4 L79.2 151.4 Z
M85.2 126.1 L82.2 105.7 C84 103.5 86 102.3 88.2 102 C91 101.6 94 101.8 96.6 102.7 C100 104 102.5 106.5 103.9 109.3 C105 111.5 105.3 113.8 105.1 115.9 Z"/>
<path fill="#c9282b" opacity="0.15" d="M74.3 138 L79.2 151.4 L90.6 142 L85.2 126.1 Z"/>
</svg>
<div class="abs" style="left:75px;top:192.5px;width:513px;height:1px;background:#e2e2e6"></div>
<svg class="abs" style="left:0;top:260px" width="664" height="70" viewBox="0 260 664 70"><rect x="48.20" y="282" width="5.4" height="32" fill="#1f7786"/><rect x="59.57" y="282" width="5.4" height="32" fill="#1f7786"/><rect x="70.94" y="282" width="5.4" height="32" fill="#1f7786"/><rect x="82.31" y="282" width="5.4" height="32" fill="#1f7786"/><rect x="93.68" y="282" width="5.4" height="32" fill="#1f7786"/><rect x="105.05" y="282" width="5.4" height="32" fill="#1f7786"/><rect x="116.42" y="282" width="5.4" height="32" fill="#1f7786"/><rect x="127.79" y="282" width="5.4" height="32" fill="#1f7786"/><rect x="139.16" y="282" width="5.4" height="32" fill="#1f7786"/><rect x="150.53" y="282" width="5.4" height="32" fill="#1f7786"/><rect x="161.90" y="282" width="5.4" height="32" fill="#1f7786"/><rect x="173.27" y="282" width="5.4" height="32" fill="#1f7786"/><rect x="184.64" y="282" width="5.4" height="32" fill="#1f7786"/><rect x="196.01" y="282" width="5.4" height="32" fill="#1f7786"/><rect x="207.38" y="282" width="5.4" height="32" fill="#1f7786"/><rect x="218.75" y="282" width="5.4" height="32" fill="#1f7786"/><rect x="230.12" y="282" width="5.4" height="32" fill="#1f7786"/><rect x="241.49" y="282" width="5.4" height="32" fill="#1f7786"/><rect x="252.86" y="282" width="5.4" height="32" fill="#1f7786"/><rect x="264.23" y="282" width="5.4" height="32" fill="#1f7786"/><rect x="275.60" y="282" width="5.4" height="32" fill="#1f7786"/><rect x="286.97" y="282" width="5.4" height="32" fill="#1f7786"/><rect x="298.34" y="282" width="5.4" height="32" fill="#1f7786"/><rect x="309.71" y="282" width="5.4" height="32" fill="#1f7786"/><rect x="321.08" y="282" width="5.4" height="32" fill="#1f7786"/><rect x="332.45" y="282" width="5.4" height="32" fill="#1f7786"/><rect x="343.82" y="282" width="5.4" height="32" fill="#1f7786"/><rect x="355.19" y="282" width="5.4" height="32" fill="#1f7786"/><rect x="366.56" y="282" width="5.4" height="32" fill="#1f7786"/><rect x="377.93" y="282" width="5.4" height="32" fill="#1f7786"/><rect x="389.30" y="282" width="5.4" height="32" fill="#1f7786"/><rect x="400.67" y="282" width="5.4" height="32" fill="#1f7786"/><rect x="412.04" y="282" width="5.4" height="32" fill="#1f7786"/>
<polygon fill="#1f7786" stroke="#1f7786" stroke-width="6.5" stroke-linejoin="round" points="576.1,275.2 611.5,295.2 576.1,315.3"/></svg>
<svg class="abs" style="left:0;top:440px" width="664" height="180" viewBox="0 440 664 180"><polygon fill="#c7c8d2" points="210.3,564 221.8,564 155.2,609 119,609"/><polygon fill="#c7c8d2" points="232,564 244.4,564 217.5,609 180,609"/><polygon fill="#a9d0d3" points="253.4,564 265.9,564 276.3,609 242,609"/><polygon fill="#a9d0d3" points="275,564 287.4,564 338.2,609 302,609"/><polygon fill="#efa9aa" points="296.4,564 309,564 399.2,609 363,609"/><polygon fill="#737282" points="216.5,527.4 230.75,547.1999999999999 222.8,547.1999999999999 222.8,564 210.2,564 210.2,547.1999999999999 202.25,547.1999999999999"/><polygon fill="#737282" points="238.2,510.1 252.45,529.9 244.5,529.9 244.5,564 231.89999999999998,564 231.89999999999998,529.9 223.95,529.9"/><polygon fill="#1f7786" points="259.5,493.2 273.75,513.0 265.8,513.0 265.8,564 253.2,564 253.2,513.0 245.25,513.0"/><polygon fill="#1f7786" points="281.2,477.4 295.45,497.2 287.5,497.2 287.5,564 274.9,564 274.9,497.2 266.95,497.2"/><polygon fill="#c4000f" points="302.7,461 316.95,480.8 309.0,480.8 309.0,564 296.4,564 296.4,480.8 288.45,480.8"/></svg>
<div class="abs" style="left:131.3px;top:725.8px;width:21.9px;height:23.1px;background:#c9000e"></div>
<div class="abs" style="left:131.3px;top:755.2px;width:21.9px;height:23.2px;background:#1f7786"></div>
<div class="abs" style="left:131.3px;top:784px;width:21.9px;height:23.8px;background:#737282"></div>
<div class="abs" style="left:147.2px;top:1413.7px;width:21.6px;height:23.5px;background:#c9000e"></div>
<div class="abs" style="left:147.2px;top:1443px;width:21.6px;height:23.1px;background:#1f7786"></div>
<div class="abs" style="left:147.2px;top:1472px;width:21.6px;height:23.5px;background:#737282"></div>
<div class="abs" style="left:346.6px;top:733.9px;width:37.1px;height:86.8px;background:#737282"></div>
<div class="abs" style="left:420.5px;top:712.4px;width:37.1px;height:108.3px;background:#1f7786"></div>
<div class="abs" style="left:494.7px;top:690.8px;width:36.8px;height:129.9px;background:#c9000e"></div>
<svg class="abs" style="left:0;top:960px" width="664" height="140" viewBox="0 960 664 140">
<defs><filter id="sh" x="-20%" y="-20%" width="140%" height="140%"><feGaussianBlur stdDeviation="2.5"/></filter></defs>
<polygon fill="#000" opacity="0.18" filter="url(#sh)" transform="translate(3,4)" points="239.5,1091.8 313.8,1017.4 339.1,1040.2 376.1,1003.2 361.2,989.6 425.4,978.9 413.4,1039.6 399.2,1026.9 339.1,1085.4 314.8,1062.7 283.8,1091.8"/>
<polygon fill="#747485" points="239.5,1091.8 313.8,1017.4 339.1,1040.2 376.1,1003.2 361.2,989.6 425.4,978.9 413.4,1039.6 399.2,1026.9 339.1,1085.4 314.8,1062.7 283.8,1091.8"/>
</svg>
<svg class="abs" style="left:130.9px;top:1192px" width="140" height="140" viewBox="130.9 1192 140 140">
<circle cx="200.9" cy="1262" r="57" fill="none" stroke="#c9cad3" stroke-width="12.4"/>
<circle cx="200.9" cy="1262" r="57" fill="none" stroke="#1f7786" stroke-width="12.4" stroke-dasharray="226.35 358.14" transform="rotate(-90 200.9 1262)"/>
</svg>
<svg class="abs" style="left:392.9px;top:1192px" width="140" height="140" viewBox="392.9 1192 140 140">
<circle cx="462.9" cy="1262" r="57" fill="none" stroke="#c9cad3" stroke-width="12.4"/>
<circle cx="462.9" cy="1262" r="57" fill="none" stroke="#1f7786" stroke-width="12.4" stroke-dasharray="81.66 358.14" transform="rotate(-90 462.9 1262)"/>
</svg>
<svg class="abs" style="left:180px;top:1238px" width="42" height="64" viewBox="180 1238 42 64">
<circle cx="200.7" cy="1250" r="5.05" fill="#27349a"/>
<path fill="#27349a" d="M195.6 1256 H205.8 Q211 1256 211 1261.5 V1276 Q211 1277.9 209.1 1277.9 Q207.2 1277.9 207.2 1276 V1263.3 H206.2 V1296 Q206.2 1298.2 203.85 1298.2 Q201.5 1298.2 201.5 1296 V1277.5 H199.9 V1296 Q199.9 1298.2 197.55 1298.2 Q195.2 1298.2 195.2 1296 V1263.3 H194.2 V1276 Q194.2 1277.9 192.3 1277.9 Q190.4 1277.9 190.4 1276 V1261.5 Q190.4 1256 195.6 1256 Z"/>
</svg>
<svg class="abs" style="left:442px;top:1238px" width="42" height="64" viewBox="442 1238 42 64">
<circle cx="463.1" cy="1250" r="5.0" fill="#27349a"/>
<path fill="#27349a" d="M458.2 1256 H468 Q472.6 1256 473.8 1262 L475.9 1275.6 Q476.2 1277.8 474.2 1278 Q472.4 1278.2 472.2 1276.2 L470.3 1265 L471.7 1281.6 H468.6 V1296 Q468.6 1298.2 466.35 1298.2 Q464.1 1298.2 464.1 1296 V1281.6 H461.6 V1296 Q461.6 1298.2 459.4 1298.2 Q457.2 1298.2 457.2 1296 V1281.6 H454.6 L456 1265 L454 1276.2 Q453.8 1278.2 452 1278 Q450 1277.8 450.3 1275.6 L452.4 1262 Q453.6 1256 458.2 1256 Z"/>
</svg>
<svg class="abs" style="left:370px;top:1370px" width="160" height="160" viewBox="370 1370 160 160">
<circle cx="450.7" cy="1448.5" r="68.3" fill="#c9cad3"/>
<path fill="#c9000e" d="M450.8 1447.5 L450.80 1511.00 A63.5 63.5 0 1 1 484.36 1393.59 Z"/><path fill="#1f7786" d="M450.8 1447.5 L484.36 1393.59 A63.5 63.5 0 0 1 498.29 1489.66 Z"/><path fill="#737282" d="M450.8 1447.5 L498.29 1489.66 A63.5 63.5 0 0 1 450.80 1511.00 Z"/>
</svg>
<svg class="abs" style="left:0;top:1720px" width="664" height="100" viewBox="0 1720 664 100"><path fill="#c9cad8" d="M155.7 1737.7 H264.1 V1764.8 H169.7 L155.7 1770.8 Z"/><path fill="#c9cad8" d="M277.6 1738.7 H385.3 V1765 H291.6 L277.6 1771 Z"/><path fill="#c9cad8" d="M399 1737.9 H506.7 V1764.2 H413 L399 1770.2 Z"/><path fill="#c9cad8" d="M216.8 1779.8 H324.3 V1806.3 H230.8 L216.8 1812.3 Z"/><path fill="#c9cad8" d="M338.3 1779.8 H446 V1806 H352.3 L338.3 1812 Z"/></svg>
<svg class="abs" style="left:0;top:1880px" width="664" height="50" viewBox="0 1880 664 50"><circle cx="182" cy="1891.5" r="3" fill="#1f7786"/><circle cx="181.5" cy="1920.7" r="3" fill="#1f7786"/><circle cx="365.9" cy="1894" r="3" fill="#1f7786"/><circle cx="365.9" cy="1920.7" r="3" fill="#1f7786"/></svg>
<svg class="abs" style="left:495px;top:36px" width="140" height="40" viewBox="495 36 140 40">
<circle cx="508.4" cy="55.8" r="4.3" fill="#29b5e6"/><circle cx="616.9" cy="55.8" r="4.3" fill="#29b5e6"/>
<g fill="none" stroke="#27337d" stroke-width="4.4">
<line x1="517.5" y1="47.5" x2="517.5" y2="69.6" stroke-width="5.2"/>
<circle cx="523.2" cy="55.7" r="6.2"/>
<path d="M536.5 64.2 V55.5 Q536.5 49.4 544.4 49.4" stroke-width="4.8"/>
<circle cx="553.6" cy="55.7" r="6.1"/>
<line x1="560" y1="47.2" x2="560" y2="64.2" stroke-width="4.8"/>
<path d="M578.3 51.6 A6.2 6.2 0 1 0 578.3 59.8" stroke-width="4.5"/>
<path d="M584.9 43.3 V57.8 Q584.9 61.9 592.6 61.9" stroke-width="4.9"/>
<line x1="580.5" y1="49.4" x2="592.6" y2="49.4" stroke-width="3.9"/>
<circle cx="602.6" cy="55.7" r="6.3" stroke-width="4.3"/>
</g></svg>
<div class="t" style="left:176.05px;top:120.32px;font-size:23.26px;font-weight:700;color:#27337f;transform:scaleX(1.0544);-webkit-text-stroke:0.47px #27337f;letter-spacing:0em">Appointments with Cancer</div>
<div class="t" style="left:129.52px;top:147.34px;font-size:23.69px;font-weight:700;color:#27337f;transform:scaleX(1.0186);-webkit-text-stroke:0.47px #27337f;letter-spacing:0em">specialists went up by 94% in India</div>
<div class="t" style="left:169.22px;top:218.33px;font-size:21.37px;font-weight:400;color:#2d3566;transform:scaleX(1.0101);-webkit-text-stroke:0.00px #2d3566;letter-spacing:0em">Cancer-related queries went up by</div>
<div class="t" style="left:438.71px;top:264.89px;font-size:65.07px;font-weight:700;color:#c9000e;transform:scaleX(0.9898);-webkit-text-stroke:1.95px #c9000e;letter-spacing:0.1em">95</div>
<div class="t" style="left:520.64px;top:265.39px;font-size:36.49px;font-weight:700;color:#c9000e;transform:scaleX(0.9766);-webkit-text-stroke:1.46px #c9000e;letter-spacing:0em">%</div>
<div class="t" style="left:107.49px;top:382.21px;font-size:22.09px;font-weight:400;color:#2d3566;transform:scaleX(0.9607);-webkit-text-stroke:0.00px #2d3566;letter-spacing:0em">In-clinic appointments for oncologists witnessed</div>
<div class="t" style="left:267.89px;top:409.31px;font-size:22.09px;font-weight:400;color:#2d3566;transform:scaleX(0.9169);-webkit-text-stroke:0.00px #2d3566;letter-spacing:0em">an increase of</div>
<div class="t" style="left:373.58px;top:481.59px;font-size:65.75px;font-weight:700;color:#c9000e;transform:scaleX(0.9779);-webkit-text-stroke:1.97px #c9000e;letter-spacing:0.06em">108</div>
<div class="t" style="left:492.44px;top:483.68px;font-size:37.30px;font-weight:700;color:#c9000e;transform:scaleX(0.9615);-webkit-text-stroke:1.49px #c9000e;letter-spacing:0em">%</div>
<div class="t" style="left:267.36px;top:635.41px;font-size:21.51px;font-weight:400;color:#2d3566;transform:scaleX(0.9681);-webkit-text-stroke:0.00px #2d3566;letter-spacing:0em">City-wise split</div>
<div class="t" style="left:160.55px;top:730.79px;font-size:18.02px;font-weight:700;color:#27337f;transform:scaleX(0.9938);-webkit-text-stroke:0.00px #27337f;letter-spacing:0em">Bangalore</div>
<div class="t" style="left:162.08px;top:757.27px;font-size:18.75px;font-weight:700;color:#27337f;transform:scaleX(1.0022);-webkit-text-stroke:0.00px #27337f;letter-spacing:0em">Mumbai</div>
<div class="t" style="left:160.55px;top:787.17px;font-size:18.17px;font-weight:700;color:#27337f;transform:scaleX(0.9838);-webkit-text-stroke:0.00px #27337f;letter-spacing:0em">Delhi NCR</div>
<div class="t" style="left:345.87px;top:714.99px;font-size:18.73px;font-weight:700;color:#a80f1b;transform:scaleX(1.0062);-webkit-text-stroke:0.00px #a80f1b;letter-spacing:0em">19%</div>
<div class="t" style="left:420.43px;top:693.57px;font-size:18.17px;font-weight:700;color:#a80f1b;transform:scaleX(1.0384);-webkit-text-stroke:0.00px #a80f1b;letter-spacing:0em">23%</div>
<div class="t" style="left:494.32px;top:669.29px;font-size:17.57px;font-weight:700;color:#a80f1b;transform:scaleX(1.0740);-webkit-text-stroke:0.00px #a80f1b;letter-spacing:0em">44%</div>
<div class="t" style="left:161.23px;top:848.49px;font-size:22.24px;font-weight:400;color:#2d3566;transform:scaleX(0.9633);-webkit-text-stroke:0.00px #2d3566;letter-spacing:0em">Online appointments for oncologists</div>
<div class="t" style="left:273.89px;top:873.09px;font-size:22.24px;font-weight:400;color:#2d3566;transform:scaleX(0.9082);-webkit-text-stroke:0.00px #2d3566;letter-spacing:0em">increased by</div>
<div class="t" style="left:267.50px;top:915.40px;font-size:66.44px;font-weight:700;color:#c9000e;transform:scaleX(1.0327);-webkit-text-stroke:2.33px #c9000e;letter-spacing:0.03em">44</div>
<div class="t" style="left:349.54px;top:916.89px;font-size:36.49px;font-weight:700;color:#c9000e;transform:scaleX(0.9797);-webkit-text-stroke:1.46px #c9000e;letter-spacing:0em">%</div>
<div class="t" style="left:251.98px;top:1118.91px;font-size:22.09px;font-weight:400;color:#2d3566;transform:scaleX(0.9277);-webkit-text-stroke:0.00px #2d3566;letter-spacing:0em">Gender-wise split</div>
<div class="t" style="left:181.44px;top:1168.91px;font-size:16.72px;font-weight:700;color:#27337f;transform:scaleX(1.1581);-webkit-text-stroke:0.00px #27337f;letter-spacing:0em">Men</div>
<div class="t" style="left:429.60px;top:1168.91px;font-size:16.72px;font-weight:700;color:#27337f;transform:scaleX(1.1304);-webkit-text-stroke:0.00px #27337f;letter-spacing:0em">Women</div>
<div class="t" style="left:186.47px;top:1225.50px;font-size:17.32px;font-weight:700;color:#a80f1b;transform:scaleX(1.0588);-webkit-text-stroke:0.00px #a80f1b;letter-spacing:0em">70%</div>
<div class="t" style="left:450.13px;top:1225.50px;font-size:17.32px;font-weight:700;color:#a80f1b;transform:scaleX(1.0568);-webkit-text-stroke:0.00px #a80f1b;letter-spacing:0em">30%</div>
<div class="t" style="left:268.40px;top:1356.03px;font-size:20.78px;font-weight:400;color:#2d3566;transform:scaleX(0.9857);-webkit-text-stroke:0.00px #2d3566;letter-spacing:0em">Age-wise split</div>
<div class="t" style="left:143.55px;top:1392.65px;font-size:15.84px;font-weight:700;color:#27337f;transform:scaleX(1.1549);-webkit-text-stroke:0.00px #27337f;letter-spacing:0em">Age</div>
<div class="t" style="left:178.32px;top:1417.90px;font-size:18.03px;font-weight:700;color:#d8452a;transform:scaleX(1.0693);-webkit-text-stroke:0.00px #d8452a;letter-spacing:0em">21-36</div>
<div class="t" style="left:179.62px;top:1446.67px;font-size:18.17px;font-weight:700;color:#1f7786;transform:scaleX(1.0545);-webkit-text-stroke:0.00px #1f7786;letter-spacing:0em">31-40</div>
<div class="t" style="left:178.12px;top:1475.87px;font-size:19.33px;font-weight:700;color:#737282;transform:scaleX(1.0029);-webkit-text-stroke:0.00px #737282;letter-spacing:0em">Other</div>
<div class="t" style="left:407.31px;top:1434.28px;font-size:17.46px;font-weight:700;color:#ffffff;transform:scaleX(1.1182);-webkit-text-stroke:0.00px #ffffff;letter-spacing:0em">48</div>
<div class="t" style="left:430.20px;top:1434.84px;font-size:8.95px;font-weight:700;color:#ffffff;transform:scaleX(0.9167);-webkit-text-stroke:0.54px #ffffff;letter-spacing:0em">%</div>
<div class="t" style="left:473.22px;top:1435.56px;font-size:16.90px;font-weight:700;color:#ffffff;transform:scaleX(1.1213);-webkit-text-stroke:0.00px #ffffff;letter-spacing:0em">33</div>
<div class="t" style="left:495.30px;top:1435.92px;font-size:9.08px;font-weight:700;color:#ffffff;transform:scaleX(0.9653);-webkit-text-stroke:0.54px #ffffff;letter-spacing:0em">%</div>
<div class="t" style="left:456.22px;top:1479.06px;font-size:17.61px;font-weight:700;color:#ffffff;transform:scaleX(1.0179);-webkit-text-stroke:0.00px #ffffff;letter-spacing:0em">19</div>
<div class="t" style="left:477.20px;top:1479.25px;font-size:8.82px;font-weight:700;color:#ffffff;transform:scaleX(1.0451);-webkit-text-stroke:0.53px #ffffff;letter-spacing:0em">%</div>
<div class="t" style="left:154.50px;top:1551.38px;font-size:20.49px;font-weight:400;color:#2d3566;transform:scaleX(1.0131);-webkit-text-stroke:0.00px #2d3566;letter-spacing:0em">Average number of queries per <b style="font-weight:700;color:#27337f">month</b></div>
<div class="t" style="left:240.33px;top:1597.74px;font-size:58.13px;font-weight:700;color:#c9000e;transform:scaleX(0.9843);-webkit-text-stroke:2.33px #c9000e;letter-spacing:0.035em">25,000</div>
<div class="t" style="left:154.91px;top:1684.16px;font-size:21.80px;font-weight:400;color:#2d3566;transform:scaleX(0.9682);-webkit-text-stroke:0.00px #2d3566;letter-spacing:0em">Highest number of queries came from</div>
<div class="t" style="left:167.09px;top:1743.50px;font-size:19.19px;font-weight:400;color:#2f3a78;transform:scaleX(0.9812);-webkit-text-stroke:0.00px #2f3a78;letter-spacing:0em">Bangalore</div>
<div class="t" style="left:309.33px;top:1744.54px;font-size:18.90px;font-weight:400;color:#2f3a78;transform:scaleX(1.0411);-webkit-text-stroke:0.00px #2f3a78;letter-spacing:0em">Delhi</div>
<div class="t" style="left:418.14px;top:1741.77px;font-size:19.33px;font-weight:400;color:#2f3a78;transform:scaleX(1.0103);-webkit-text-stroke:0.00px #2f3a78;letter-spacing:0em">Mumbai</div>
<div class="t" style="left:225.19px;top:1786.97px;font-size:18.75px;font-weight:400;color:#2f3a78;transform:scaleX(1.0049);-webkit-text-stroke:0.00px #2f3a78;letter-spacing:0em">Hyderabad</div>
<div class="t" style="left:357.76px;top:1785.47px;font-size:19.91px;font-weight:400;color:#2f3a78;transform:scaleX(0.9418);-webkit-text-stroke:0.00px #2f3a78;letter-spacing:0em">Chennai</div>
<div class="t" style="left:230.96px;top:1841.39px;font-size:22.24px;font-weight:400;color:#2d3566;transform:scaleX(0.9226);-webkit-text-stroke:0.00px #2d3566;letter-spacing:0em">Most discussed topics</div>
<div class="t" style="left:190.35px;top:1884.69px;font-size:17.44px;font-weight:400;color:#2d3566;transform:scaleX(1.0382);-webkit-text-stroke:0.00px #2d3566;letter-spacing:0em">Breast Cancer</div>
<div class="t" style="left:187.73px;top:1912.09px;font-size:17.44px;font-weight:400;color:#2d3566;transform:scaleX(1.0502);-webkit-text-stroke:0.00px #2d3566;letter-spacing:0em">Prostate Cancer</div>
<div class="t" style="left:375.50px;top:1884.69px;font-size:17.44px;font-weight:400;color:#2d3566;transform:scaleX(1.0346);-webkit-text-stroke:0.00px #2d3566;letter-spacing:0em">Oral Cancer</div>
<div class="t" style="left:372.83px;top:1911.21px;font-size:17.88px;font-weight:400;color:#2d3566;transform:scaleX(1.0258);-webkit-text-stroke:0.00px #2d3566;letter-spacing:0em">Blood Cancer</div>
<div class="t" style="left:419.72px;top:1980.55px;font-size:9.88px;font-weight:400;color:#333344;transform:scaleX(0.8855);-webkit-text-stroke:0.00px #333344;letter-spacing:0em">*Insights from Practo users in the period of Jan - Dec 2019</div>
</body></html>
